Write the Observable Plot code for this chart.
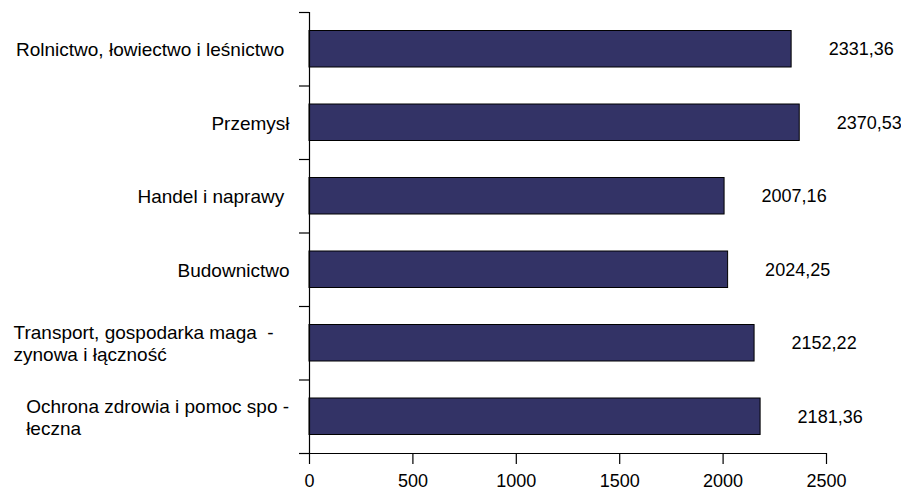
<!DOCTYPE html>
<html>
<head>
<meta charset="utf-8">
<script src="https://cdn.jsdelivr.net/npm/d3@7"></script>
<script src="https://cdn.jsdelivr.net/npm/@observablehq/plot@0.6"></script>
<style>
  html, body { margin: 0; padding: 0; background: #fff; }
  #chart svg { display: block; }
  .cat-labels text { white-space: pre; }
</style>
</head>
<body>
<div id="chart"></div>
<script>
const categories = [
  "Rolnictwo, łowiectwo i leśnictwo ",
  "Przemysł",
  "Handel i naprawy ",
  "Budownictwo",
  "Transport, gospodarka maga  -   \nzynowa i łączność",
  "Ochrona zdrowia i pomoc spo -\nłeczna"
];
const values = [2331.36, 2370.53, 2007.16, 2024.25, 2152.22, 2181.36];
const xTicks = [0, 500, 1000, 1500, 2000, 2500];

const data = categories.map((c, i) => ({ idx: i, cat: c, value: values[i] }));
const edges = d3.range(categories.length + 1);
const centers = data.map(d => d.idx + 0.5);

const fmt = v => v.toFixed(2).replace(".", ",");

const chart = Plot.plot({
  width: 901,
  height: 490,
  marginLeft: 309,
  marginRight: 75,
  marginTop: 12,
  marginBottom: 37,
  style: { fontFamily: "'Liberation Sans', Arial, sans-serif", fontSize: "18px", color: "#000", background: "#fff" },
  x: { domain: [0, 2500], axis: null },
  y: { domain: [0, categories.length], reverse: true, axis: null },
  marks: [
    Plot.rectX(data, {
      x1: 0, x2: "value", y1: "idx", y2: d => d.idx + 1,
      insetTop: 18.5, insetBottom: 18.5,
      fill: "#333366", stroke: "#000", strokeWidth: 1
    }),
    Plot.text(data, {
      x: "value", y: d => d.idx + 0.5, text: d => fmt(d.value),
      textAnchor: "start", dx: 37, fontSize: 18, fill: "#000"
    }),
    Plot.axisY(edges, { tickFormat: () => "", tickSize: 10, stroke: "#000", strokeWidth: 1.2, label: null }),
    Plot.axisY(centers, {
      tickSize: 0, tickPadding: 20, label: null,
      tickFormat: v => categories[Math.floor(v)],
      fontSize: 19, fill: "#000", lineHeight: 1.15,
      className: "cat-labels"
    }),
    Plot.ruleX([0], { y1: 0, y2: categories.length, stroke: "#000", strokeWidth: 1.2 }),
    Plot.ruleY([categories.length], { x1: 0, x2: 2500, stroke: "#000", strokeWidth: 1.2 }),
    Plot.axisX(xTicks, { anchor: "bottom", tickSize: 11, tickPadding: 10, fontSize: 18, stroke: "#000", fill: "#000", strokeWidth: 1.2, label: null, tickFormat: d => String(d) })
  ]
});
document.getElementById("chart").appendChild(chart);

// left-align lines of multi-line category labels (Excel style), keeping the block right edge
chart.querySelectorAll(".cat-labels text").forEach(t => {
  const spans = t.querySelectorAll("tspan");
  if (spans.length > 1) {
    const w = t.getBBox().width;
    t.setAttribute("text-anchor", "start");
    spans.forEach(s => s.setAttribute("x", -w));
  }
});
</script>
</body>
</html>
